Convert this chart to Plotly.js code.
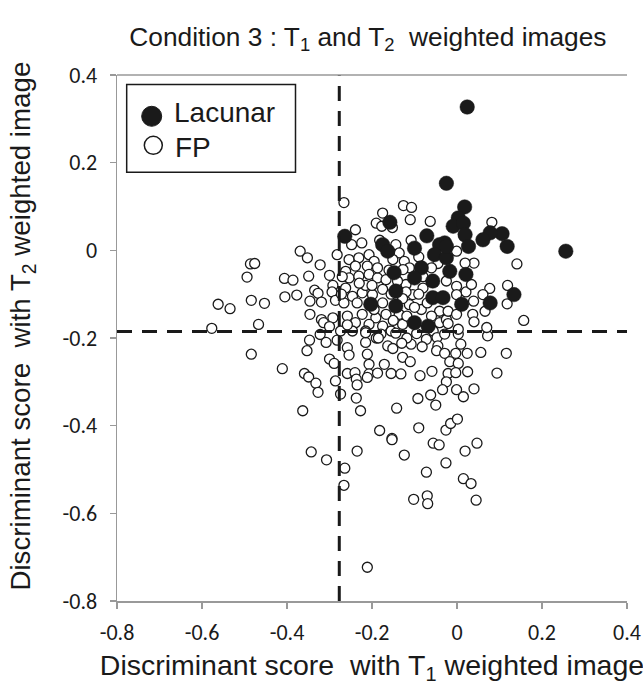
<!DOCTYPE html>
<html>
<head>
<meta charset="utf-8">
<script src="https://cdn.plot.ly/plotly-3.0.1.min.js"></script>
<style>
html,body{margin:0;padding:0;background:#fff;}
#chart{width:643px;height:687px;}
</style>
</head>
<body>
<div id="chart"></div>
<script>
// ---- Data ----
const lacX = [0.024,-0.025,0.018,-0.158,0.003,-0.009,0.015,0.019,0.106,0.078,
  0.061,0.118,-0.071,-0.264,-0.175,-0.029,-0.041,0.027,-0.100,-0.163,
  -0.053,-0.084,-0.148,-0.100,-0.057,-0.144,-0.057,-0.033,-0.203,-0.144,
  -0.100,-0.068,-0.025,-0.025,0.256,-0.017,0.021,0.011,0.078,0.134];
const lacY = [0.327,0.153,0.099,0.064,0.074,0.055,0.062,0.036,0.038,0.040,
  0.024,0.009,0.033,0.032,0.013,0.017,0.013,0.009,0.005,-0.002,
  -0.010,-0.040,-0.051,-0.063,-0.070,-0.093,-0.108,-0.108,-0.123,-0.127,
  -0.165,-0.173,-0.017,0.009,-0.002,-0.048,-0.055,-0.123,-0.120,-0.101];

const fpX = [
  -0.266,-0.126,-0.107,-0.175,-0.110,-0.063,0.082,-0.190,-0.177,-0.152,0.016,-0.239,-0.248,-0.224,-0.144,-0.108,-0.182,
  -0.369,-0.352,-0.282,-0.486,-0.476,-0.322,-0.494,-0.406,-0.386,-0.349,-0.300,-0.292,-0.335,-0.327,-0.294,-0.405,-0.377,
  -0.484,-0.562,-0.534,-0.453,-0.346,-0.319,-0.286,-0.346,-0.319,-0.292,-0.314,-0.300,-0.577,-0.467,-0.322,-0.347,-0.308,
  -0.282,-0.484,-0.353,-0.300,-0.289,-0.411,-0.359,-0.349,-0.332,-0.327,-0.286,-0.274,
  -0.254,-0.231,-0.207,-0.195,-0.136,-0.124,-0.211,-0.239,-0.262,-0.254,-0.231,-0.207,-0.187,-0.167,-0.262,-0.246,-0.223,
  -0.199,-0.175,-0.120,-0.104,-0.080,-0.266,-0.235,-0.175,-0.112,-0.084,-0.041,-0.258,-0.223,-0.191,-0.167,-0.136,-0.128,
  -0.239,-0.207,-0.175,-0.041,-0.025,-0.274,-0.246,-0.215,-0.155,-0.056,-0.112,-0.151,-0.127,-0.090,
  -0.258,-0.254,-0.215,-0.211,-0.207,-0.163,-0.151,-0.108,-0.128,-0.110,-0.171,-0.258,-0.240,-0.237,-0.235,-0.207,-0.187,
  -0.211,-0.155,-0.132,-0.087,-0.059,-0.072,-0.047,-0.045,-0.048,-0.029,0.003,0.009,-0.029,-0.003,0.024,-0.017,0.003,
  -0.021,-0.003,0.025,-0.025,-0.034,-0.001,0.015,0.040,0.056,0.116,0.072,0.094,-0.237,-0.227,-0.142,-0.092,-0.062,
  -0.050,-0.182,-0.153,-0.090,-0.026,-0.015,0.001,-0.056,-0.042,0.019,0.047,-0.124,
  -0.343,-0.307,-0.264,-0.266,-0.235,-0.153,-0.026,-0.072,0.015,0.033,-0.102,-0.070,-0.069,0.045,-0.211,-0.363,
  0.141,0.040,0.019,-0.001,0.119,0.077,0.061,0.118,0.039,0.066,0.037,0.040,0.157,-0.001,0.021,-0.001,-0.021,-0.001,
  -0.021,0.003,0.070,-0.025,0.034,
  -0.187,-0.160,-0.120,-0.150,-0.100,-0.070,-0.060,-0.195,-0.258,-0.140,-0.080,-0.118,-0.090,-0.215,-0.045,-0.190,-0.060,
  -0.215,-0.179,-0.144,-0.230,-0.270,-0.272,-0.200,-0.155,-0.128,-0.095,-0.118,-0.082,-0.185,-0.130];
const fpY = [
  0.109,0.102,0.098,0.085,0.070,0.066,0.064,0.062,0.055,0.052,0.032,0.047,0.013,0.017,0.013,0.023,0.023,
  -0.002,-0.017,-0.010,-0.031,-0.030,-0.033,-0.061,-0.064,-0.068,-0.059,-0.057,-0.080,-0.091,-0.098,-0.095,-0.106,-0.102,
  -0.114,-0.123,-0.133,-0.121,-0.116,-0.118,-0.114,-0.146,-0.158,-0.154,-0.165,-0.174,-0.178,-0.169,-0.192,-0.205,-0.210,
  -0.205,-0.237,-0.229,-0.248,-0.258,-0.270,-0.281,-0.289,-0.303,-0.324,-0.298,-0.328,
  -0.021,-0.017,-0.010,-0.025,-0.006,-0.025,-0.036,-0.036,-0.048,-0.063,-0.059,-0.055,-0.063,-0.067,-0.086,-0.105,-0.097,
  -0.101,-0.089,-0.078,-0.101,-0.086,-0.120,-0.120,-0.120,-0.124,-0.135,-0.139,-0.150,-0.146,-0.154,-0.146,-0.146,-0.169,
  -0.165,-0.169,-0.173,-0.165,-0.158,-0.184,-0.184,-0.184,-0.184,-0.184,-0.040,-0.021,-0.044,-0.015,
  -0.222,-0.239,-0.210,-0.237,-0.260,-0.218,-0.224,-0.214,-0.244,-0.254,-0.260,-0.281,-0.279,-0.294,-0.307,-0.282,-0.280,
  -0.290,-0.281,-0.282,-0.286,-0.276,-0.203,-0.199,-0.218,-0.229,-0.191,-0.191,-0.214,-0.235,-0.235,-0.235,-0.254,-0.258,
  -0.281,-0.279,-0.277,-0.300,-0.318,-0.318,-0.334,-0.316,-0.233,-0.235,-0.195,-0.280,-0.337,-0.366,-0.360,-0.338,-0.330,
  -0.353,-0.411,-0.429,-0.405,-0.410,-0.395,-0.385,-0.440,-0.444,-0.458,-0.440,-0.467,
  -0.460,-0.478,-0.497,-0.536,-0.458,-0.432,-0.485,-0.506,-0.521,-0.532,-0.568,-0.560,-0.578,-0.570,-0.723,-0.366,
  -0.031,-0.029,-0.029,-0.002,-0.080,-0.087,-0.101,-0.122,-0.116,-0.139,-0.146,-0.163,-0.160,-0.082,-0.095,-0.101,-0.139,-0.146,
  -0.167,-0.180,-0.176,-0.070,-0.078,
  -0.040,-0.045,-0.095,-0.160,-0.130,-0.120,-0.150,-0.135,-0.170,-0.070,-0.060,-0.150,-0.100,-0.080,-0.030,-0.200,-0.040,
  -0.188,-0.191,-0.189,-0.075,-0.060,-0.100,-0.080,-0.100,-0.110,-0.190,-0.200,-0.220,-0.200,-0.212];

// threshold (cut-off) lines
const cutX = -0.277;
const cutY = -0.185;

const tickVals = [-0.8,-0.6,-0.4,-0.2,0,0.2,0.4];
const tickText = ["-0.8","-0.6","-0.4","-0.2","0","0.2","0.4"];
const axisRange = [-0.8, 0.4];

const seriesNames = ["Lacunar","FP"];
const titleText = "Condition 3 : T<sub>1</sub> and T<sub>2</sub>  weighted images";
const xTitle = "Discriminant score  with T<sub>1</sub> weighted image";
const yTitle = "Discriminant score  with T<sub>2</sub> weighted image";

// ---- Plot ----
const ink = "#1a1a1a";
const fontFam = "Liberation Sans, Arial, sans-serif";
const tickFam = "Carlito, Liberation Sans, Arial, sans-serif";

const traces = [
  {x: fpX, y: fpY, type: "scatter", mode: "markers", name: seriesNames[1], showlegend: false,
   marker: {size: 10, color: "#ffffff", line: {color: ink, width: 1.3}}},
  {x: lacX, y: lacY, type: "scatter", mode: "markers", name: seriesNames[0], showlegend: false,
   marker: {size: 14.5, color: ink, line: {color: ink, width: 0.5}}},
  {x: [cutX, cutX], y: axisRange, type: "scatter", mode: "lines", showlegend: false, hoverinfo: "skip",
   line: {color: ink, width: 3, dash: "15px,10px"}},
  {x: axisRange, y: [cutY, cutY], type: "scatter", mode: "lines", showlegend: false, hoverinfo: "skip",
   line: {color: ink, width: 3, dash: "15px,10px"}}
];

const axisCommon = {
  range: axisRange, tickvals: tickVals, ticktext: tickText,
  showgrid: false, zeroline: false, showline: true, linecolor: "#999", linewidth: 1.5,
  ticks: "outside", ticklen: 6, tickwidth: 1.5, tickcolor: "#999",
  tickfont: {family: tickFam, size: 22, color: ink}
};

const layout = {
  width: 643, height: 687,
  margin: {l: 117, r: 16, t: 75, b: 86},
  paper_bgcolor: "#fff", plot_bgcolor: "#fff",
  font: {family: fontFam, color: ink},
  title: {text: titleText, font: {family: fontFam, size: 26.3, color: ink},
          x: 0.492, xref: "paper", xanchor: "center", y: 0.947, yref: "container", yanchor: "middle"},
  xaxis: Object.assign({}, axisCommon, {
    ticklabelstandoff: 5,
    title: {text: xTitle, font: {family: fontFam, size: 28.5, color: ink}, standoff: 10}
  }),
  yaxis: Object.assign({}, axisCommon, {
    ticklabelstandoff: 8
  }),
  shapes: [
    {type: "line", xref: "paper", yref: "paper", x0: 0, x1: 1, y0: 1, y1: 1,
     line: {color: "#999", width: 1.5}},
    // legend box
    {type: "rect", xref: "paper", yref: "paper", x0: 0.019, x1: 0.350, y0: 0.815, y1: 0.982,
     line: {color: ink, width: 1.5}, fillcolor: "#fff"},
    {type: "circle", xref: "paper", yref: "paper", xsizemode: "pixel", ysizemode: "pixel",
     xanchor: 0.068, yanchor: 0.9215, x0: -10, x1: 10, y0: -10, y1: 10,
     fillcolor: ink, line: {color: ink, width: 1}},
    {type: "circle", xref: "paper", yref: "paper", xsizemode: "pixel", ysizemode: "pixel",
     xanchor: 0.0712, yanchor: 0.8663, x0: -9, x1: 9, y0: -9, y1: 9,
     fillcolor: "#fff", line: {color: ink, width: 1.5}}
  ],
  annotations: [
    {text: seriesNames[0], xref: "paper", yref: "paper", x: 0.108, y: 0.929, xanchor: "left", yanchor: "middle",
     showarrow: false, font: {family: fontFam, size: 28, color: ink}},
    {text: seriesNames[1], xref: "paper", yref: "paper", x: 0.110, y: 0.8626, xanchor: "left", yanchor: "middle",
     showarrow: false, font: {family: fontFam, size: 28, color: ink}},
    // y-axis title
    {text: yTitle, xref: "paper", yref: "paper", x: -0.186, y: 0.522, xanchor: "center", yanchor: "middle",
     textangle: -90, showarrow: false, font: {family: fontFam, size: 27.7, color: ink}}
  ]
};

Plotly.newPlot("chart", traces, layout, {displayModeBar: false, staticPlot: true});
</script>
</body>
</html>
